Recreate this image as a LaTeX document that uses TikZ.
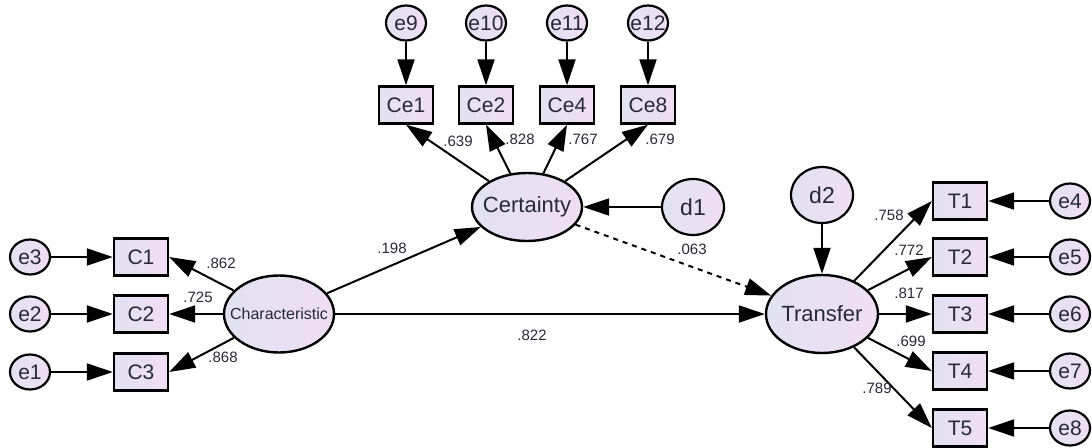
\documentclass[tikz,border=0pt]{standalone}
\usepackage{fontspec}
\setmainfont{Liberation Sans}
\usepackage{xcolor}
\usetikzlibrary{shapes.geometric}
\usetikzlibrary{arrows.meta}

\definecolor{lavleft}{RGB}{226,226,242}
\definecolor{lavright}{RGB}{240,222,244}
\definecolor{ink}{RGB}{40,40,55}

\begin{document}
\begin{tikzpicture}
	[x=1pt, y=-1pt, line width=2pt, >={Triangle[length=26pt,width=17pt]},
	 latent/.style = {draw, ellipse, line width=2.4pt, inner xsep=-12pt, inner ysep=0pt, left color=lavleft, right color=lavright, text=ink, font=\fontsize{22}{25}\selectfont},
	 obs/.style = {draw, rectangle, line width=2.4pt, inner sep=0pt, minimum width=54pt, minimum height=37pt, left color=lavleft, right color=lavright, text=ink, font=\fontsize{21}{24}\selectfont},
	 err/.style = {draw, ellipse, line width=2.2pt, inner xsep=-8pt, inner ysep=0pt, minimum width=40pt, minimum height=35pt, left color=lavleft, right color=lavright, text=ink, font=\fontsize{21}{24}\selectfont},
	 coef/.style = {text=ink, font=\fontsize{15}{17}\selectfont, inner sep=1pt}]
	\useasboundingbox (0,0) rectangle (1092,447);
	% latent variables
	\node[latent, minimum width=110pt, minimum height=77pt, font=\fontsize{16}{18}\selectfont] (Char) at (279,314) {Characteristic};
	\node[latent, minimum width=110pt, minimum height=68pt] (Cert) at (527,207) {Certainty};
	\node[latent, minimum width=112pt, minimum height=78pt] (Trans) at (822,314) {Transfer};
	\node[err, minimum width=62pt, minimum height=56pt, font=\fontsize{23}{26}\selectfont] (d1) [right of = Cert, node distance=166pt] {d1};
	\node[err, minimum width=62pt, minimum height=56pt, font=\fontsize{23}{26}\selectfont] (d2) [above of = Trans, node distance=119pt] {d2};
	% certainty items
	\node[obs] (Ce1) at (406,105) {Ce1};
	\node[obs] (Ce2) [right of = Ce1, node distance=80pt] {Ce2};
	\node[obs] (Ce4) [right of = Ce2, node distance=81pt] {Ce4};
	\node[obs] (Ce8) [right of = Ce4, node distance=81pt] {Ce8};
	\node[err] (e9) [above of = Ce1, node distance=82pt] {e9};
	\node[err] (e10) [above of = Ce2, node distance=82pt] {e10};
	\node[err] (e11) [above of = Ce4, node distance=82pt] {e11};
	\node[err] (e12) [above of = Ce8, node distance=82pt] {e12};
	% characteristic items
	\node[obs] (C2) [left of = Char, node distance=138pt] {C2};
	\node[obs] (C1) [above of = C2, node distance=57pt] {C1};
	\node[obs] (C3) [below of = C2, node distance=58pt] {C3};
	\node[err] (e3) [left of = C1, node distance=111pt] {e3};
	\node[err] (e2) [left of = C2, node distance=111pt] {e2};
	\node[err] (e1) [left of = C3, node distance=111pt] {e1};
	% transfer items
	\node[obs] (T3) [right of = Trans, node distance=138pt] {T3};
	\node[obs] (T2) [above of = T3, node distance=57pt] {T2};
	\node[obs] (T1) [above of = T2, node distance=56pt] {T1};
	\node[obs] (T4) [below of = T3, node distance=57pt] {T4};
	\node[obs] (T5) [below of = T4, node distance=57pt] {T5};
	\node[err] (e4) [right of = T1, node distance=110pt] {e4};
	\node[err] (e5) [right of = T2, node distance=110pt] {e5};
	\node[err] (e6) [right of = T3, node distance=110pt] {e6};
	\node[err] (e7) [right of = T4, node distance=110pt] {e7};
	\node[err] (e8) [right of = T5, node distance=110pt] {e8};
	% error terms
	\draw[->] (e9) -- (Ce1);
	\draw[->] (e10) -- (Ce2);
	\draw[->] (e11) -- (Ce4);
	\draw[->] (e12) -- (Ce8);
	\draw[->] (e3) -- (C1);
	\draw[->] (e2) -- (C2);
	\draw[->] (e1) -- (C3);
	\draw[->] (e4) -- (T1);
	\draw[->] (e5) -- (T2);
	\draw[->] (e6) -- (T3);
	\draw[->] (e7) -- (T4);
	\draw[->] (e8) -- (T5);
	\draw[->] (d1) -- (Cert);
	\draw[->] (d2) -- (Trans);
	% loadings
	\draw[->] (Cert) -- (Ce1.south) node[coef] at (458,141) {.639};
	\draw[->] (Cert) -- (Ce2.south) node[coef] at (520,139) {.828};
	\draw[->] (Cert) -- (Ce4.south) node[coef] at (583,139) {.767};
	\draw[->] (Cert) -- (Ce8.south) node[coef] at (660,139) {.679};
	\draw[->] (Char) -- (C1.east) node[coef] at (221,263) {.862};
	\draw[->] (Char) -- (C2.east) node[coef] at (198,297) {.725};
	\draw[->] (Char) -- (C3.east) node[coef] at (223,357) {.868};
	\draw[->] (Trans) -- (T1.west) node[coef] at (889,215) {.758};
	\draw[->] (Trans) -- (T2.west) node[coef] at (909,250) {.772};
	\draw[->] (Trans) -- (T3.west) node[coef] at (909,293) {.817};
	\draw[->] (Trans) -- (T4.west) node[coef] at (911,341) {.699};
	\draw[->] (Trans) -- (T5.west) node[coef] at (877,388) {.789};
	% structural paths
	\draw[->] (Char) -- (Cert) node[coef] at (392,248) {.198};
	\draw[->] (Char) -- (Trans) node[coef] at (532,335) {.822};
	\draw[->, dash pattern=on 5pt off 5pt] (Cert) -- (Trans) node[coef] at (692,249) {.063};
\end{tikzpicture}
\end{document}
